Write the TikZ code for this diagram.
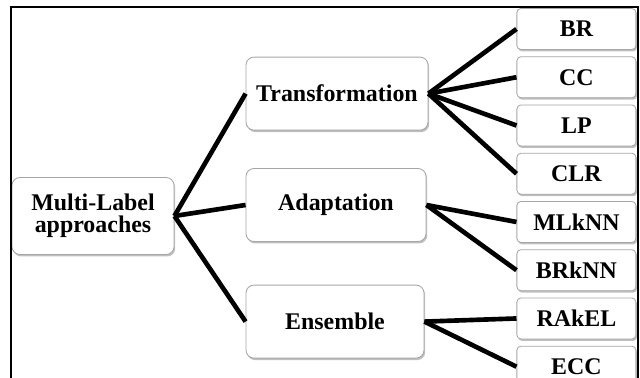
\documentclass[tikz,border=0pt]{standalone}
\usepackage{fontspec}
\setmainfont{Liberation Serif}
\usetikzlibrary{positioning, shadows}
\tikzstyle{link} = [line width=3.3pt]
\tikzstyle{category} = [rectangle, rounded corners=0.2cm, draw=gray!70, line width=0.6pt, fill=white, drop shadow={shadow xshift=0.03cm, shadow yshift=-0.05cm, opacity=0.5, fill=gray}, align=center, font=\fontsize{17}{15.6}\selectfont\bfseries]
\tikzstyle{method} = [rectangle, rounded corners=0.1cm, draw=gray!70, line width=0.6pt, fill=white, drop shadow={shadow xshift=0.03cm, shadow yshift=-0.05cm, opacity=0.5, fill=gray}, minimum width=2.975cm, minimum height=1.025cm, inner sep=1pt, font=\fontsize{17}{15.6}\selectfont\bfseries]

\begin{document}
\begin{tikzpicture}
\useasboundingbox (0,0) rectangle (16,-9.45);

% Root
\node (root) [category, minimum width=4.05cm, minimum height=1.925cm] at (2.325,-5.4) {Multi-Label\\approaches};

% Categories
\node (trans) [category, minimum width=4.55cm, minimum height=1.825cm] at (8.425,-2.34) {Transformation};
\node (adapt) [category, minimum width=4.5cm, minimum height=1.825cm] at (8.4,-5.125) {Adaptation};
\node (ens) [category, minimum width=4.45cm, minimum height=1.825cm] at (8.375,-8.04) {Ensemble};

% Methods
\node (br) [method] at (14.41,-0.725) {BR};
\node (cc) [method, below=0.16cm of br] {CC};
\node (lp) [method, below=0.16cm of cc] {LP};
\node (clr) [method, below=0.16cm of lp] {CLR};
\node (mlknn) [method, below=0.16cm of clr] {MLkNN};
\node (brknn) [method, below=0.16cm of mlknn] {BRkNN};
\node (rakel) [method, below=0.16cm of brknn] {RAkEL};
\node (ecc) [method, below=0.16cm of rakel] {ECC};

% Links
\foreach \c in {trans, adapt, ens}
  \draw [link] (root.east) -- (\c.west);
\foreach \m in {br, cc, lp, clr}
  \draw [link] (trans.east) -- (\m.west);
\foreach \m in {mlknn, brknn}
  \draw [link] (adapt.east) -- (\m.west);
\foreach \m in {rakel, ecc}
  \draw [link] (ens.east) -- (\m.west);

% Frame
\draw [line width=1.4pt] (0.275,-9.45) |- (15.95,-0.175) -- (15.95,-9.45);

\end{tikzpicture}
\end{document}
